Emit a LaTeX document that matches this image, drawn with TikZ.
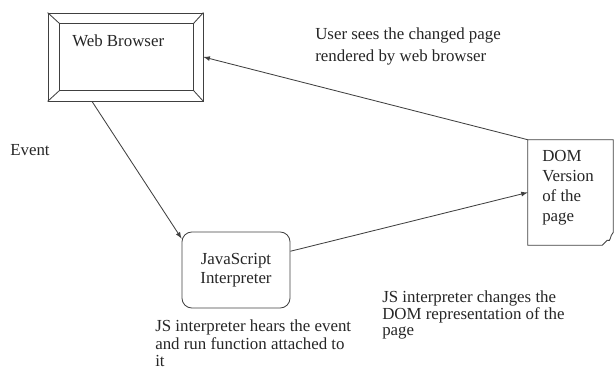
\documentclass[tikz,border=0pt]{standalone}
\usepackage{fontspec}
\setmainfont{Liberation Serif}

\tikzset{
  ln/.style={draw=black!75, line width=0.6pt},
  txt/.style={font=\fontsize{12}{#1}\selectfont, align=left, inner sep=0pt, anchor=north west, text=black!85},
  txt/.default=14,
}

\begin{document}
\begin{tikzpicture}[x=0.025cm, y=-0.025cm]
    \useasboundingbox (0,0) rectangle (614,372);

    % Web Browser (bevelled frame)
    \node[ln, minimum width=3.875cm, minimum height=2.2cm] (browser) at (125.5,57) {};
    \coordinate (bin1) at ([shift={(12,11)}]browser.north west);
    \coordinate (bin2) at ([shift={(-10,11)}]browser.north east);
    \coordinate (bin3) at ([shift={(-10,-11)}]browser.south east);
    \coordinate (bin4) at ([shift={(12,-11)}]browser.south west);
    \draw[ln] (bin1) -- (bin2) -- (bin3) -- (bin4) -- cycle;
    \draw[ln] (browser.north west) -- (bin1);
    \draw[ln] (browser.north east) -- (bin2);
    \draw[ln] (browser.south east) -- (bin3);
    \draw[ln] (browser.south west) -- (bin4);
    \node[txt] (browserlbl) at (72,35) {Web Browser};

    % JavaScript Interpreter
    \node[ln, rounded corners=7pt, minimum width=2.7cm, minimum height=1.9cm,
          align=center, font=\fontsize{12}{13.5}\selectfont, text=black!85] (js) at (236,270) {JavaScript\\Interpreter};

    % DOM document (folded corner)
    \node[minimum width=2.125cm, minimum height=2.625cm] (dom) at (570.5,192.5) {};
    \draw[ln] (dom.south west) -- (dom.north west) -- (dom.north east)
        -- ([shift={(0,-13)}]dom.south east)
        .. controls ([shift={(-4,-9)}]dom.south east) and ([shift={(-2,-3)}]dom.south east) .. ([shift={(-6,-5)}]dom.south east)
        .. controls ([shift={(-8,-2)}]dom.south east) .. ([shift={(-11,0)}]dom.south east)
        -- cycle;
    \node[txt=14.2] (domtxt) at (542,150) {DOM\\Version\\of the\\page};

    % arrows
    \draw[ln, -latex] (browser.-127) -- (js.150);
    \draw[ln, -latex] (js.19) -- (dom.west);
    \draw[ln, -latex] (dom.north west) -- (browser.east);

    % labels
    \node[txt=15.6] (seestxt) at (315,28) {User sees the changed page\\rendered by web browser};
    \node[txt] (eventtxt) at (10,144) {Event};
    \node[txt=12.4] (hearstxt) at (155,320) {JS interpreter hears the event\\and run function attached to\\it};
    \node[txt=11.7] (changestxt) at (382,291) {JS interpreter changes the\\DOM representation of the\\page};
\end{tikzpicture}
\end{document}
